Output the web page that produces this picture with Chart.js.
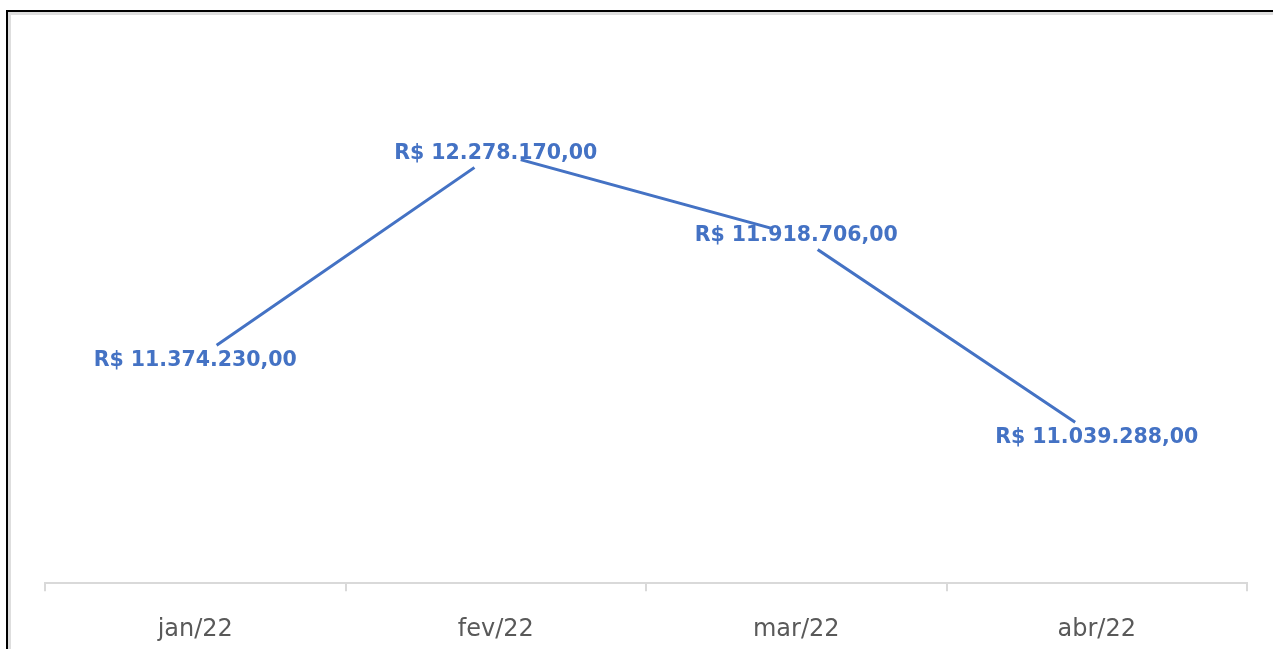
<!DOCTYPE html>
<html>
<head>
<meta charset="utf-8">
<script src="https://cdn.jsdelivr.net/npm/chart.js@4.4.1/dist/chart.umd.min.js"></script>
<style>
  body { margin: 0; background: #fff; }
  #wrap { position: relative; width: 1273px; height: 649px; overflow: hidden; }
  #frame {
    position: absolute; left: 6px; top: 10px; width: 1280px; height: 650px;
    border-left: 2px solid #000; border-top: 2px solid #000;
    box-shadow: inset 3px 3px 0 0 #dedede;
    pointer-events: none;
  }
</style>
</head>
<body>
<div id="wrap">
  <canvas id="chart" width="1273" height="649"></canvas>
  <div id="frame"></div>
</div>
<script>
const months = ['jan/22', 'fev/22', 'mar/22', 'abr/22'];
const revenue = [11374230, 12278170, 11918706, 11039288];
const yMin = 10400000;
const yMax = 12600000;

const lineColor = '#4472C4';

// R$ 1.234.567,00
function brl(v) {
  const parts = v.toFixed(2).split('.');
  const int = parts[0].replace(/\B(?=(\d{3})+(?!\d))/g, '.');
  return 'R$ ' + int + ',' + parts[1];
}

const valueLabels = {
  id: 'valueLabels',
  afterDatasetsDraw(chart) {
    const ctx = chart.ctx;
    const meta = chart.getDatasetMeta(0);
    ctx.save();
    ctx.font = 'bold 20.5px "DejaVu Sans"';
    ctx.fillStyle = lineColor;
    ctx.textAlign = 'center';
    ctx.textBaseline = 'middle';
    meta.data.forEach((pt, i) => {
      ctx.fillText(brl(revenue[i]), pt.x, pt.y + 1);
    });
    ctx.restore();
  }
};

const ctx = document.getElementById('chart').getContext('2d');
const chart = new Chart(ctx, {
  type: 'line',
  data: {
    labels: months,
    datasets: [{
      data: revenue,
      borderColor: lineColor,
      borderWidth: 3,
      tension: 0,
      fill: false,
      pointRadius: 26,
      pointHoverRadius: 26,
      pointBackgroundColor: '#fff',
      pointBorderWidth: 0,
      pointBorderColor: '#fff'
    }]
  },
  options: {
    responsive: false,
    animation: false,
    events: [],
    layout: { padding: { left: 45, right: 17, top: 79, bottom: -19 } },
    plugins: {
      legend: { display: false },
      tooltip: { enabled: false }
    },
    scales: {
      x: {
        offset: true,
        grid: {
          offset: true,
          drawOnChartArea: false,
          drawTicks: true,
          tickLength: 8,
          color: '#d9d9d9',
          lineWidth: 2
        },
        border: { display: true, color: '#d9d9d9', width: 2 },
        ticks: {
          color: '#595959',
          padding: 24,
          font: { family: '"DejaVu Sans"', size: 24 }
        }
      },
      y: {
        display: false,
        min: yMin,
        max: yMax
      }
    }
  },
  plugins: [valueLabels]
});
</script>
</body>
</html>
